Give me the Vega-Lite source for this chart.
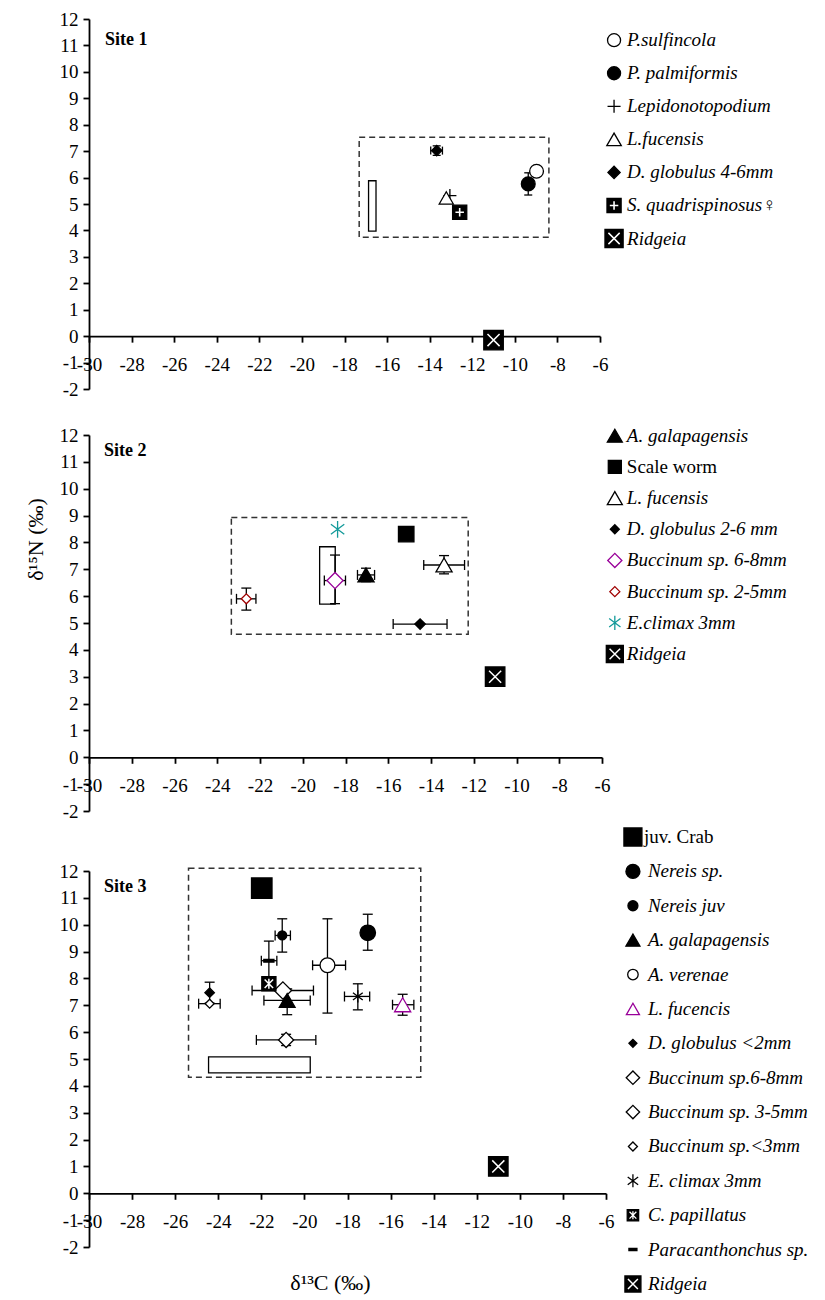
{
"$schema": "https://vega.github.io/schema/vega-lite/v6.json",
"background": "white",
"padding": {"left": 24, "top": 10, "right": 0, "bottom": 0},
"config": {
 "view": {"stroke": null},
 "font": "Liberation Serif",
 "axis": {"domainColor": "black", "domainWidth": 1.8, "tickColor": "black", "tickWidth": 1.8, "tickSize": 6, "labelFont": "Liberation Serif", "labelFontSize": 19, "labelColor": "black", "grid": false, "labelFlush": false, "labelOverlap": false, "titleFont": "Liberation Serif", "titleFontWeight": "normal", "titleColor": "black", "titleFontSize": 22},
 "axisX": {"labelPadding": 13},
 "axisY": {"labelPadding": 5}
},
"bounds": "flush",
"spacing": 46,
"resolve": {"scale": {"shape": "independent", "fill": "independent", "stroke": "independent", "size": "independent"}},
"vconcat": [
{
 "width": 511, "height": 370,
 "data": {"values": [
  {"s": "lepi", "label": "Lepidonotopodium", "o": 3, "x": -13.05, "y": 5.32},
  {"s": "sulf", "label": "P.sulfincola", "o": 1, "x": -8.98, "y": 6.24},
  {"s": "palm", "label": "P. palmiformis", "o": 2, "x": -9.37, "y": 5.76, "ylo": 5.34, "yhi": 6.18},
  {"s": "lfuc1", "label": "L.fucensis", "o": 4, "x": -13.22, "y": 5.23},
  {"s": "dglob1", "label": "D. globulus 4-6mm", "o": 5, "x": -13.67, "y": 7.02, "xlo": -13.95, "xhi": -13.4, "ylo": 6.84, "yhi": 7.2},
  {"s": "squad", "label": "S. quadrispinosus♀", "o": 6, "x": -12.59, "y": 4.69},
  {"s": "ridg1", "label": "Ridgeia", "o": 7, "x": -11, "y": -0.15}
 ]},
 "resolve": {"scale": {"y": "independent", "size": "independent"}, "axis": {"x": "independent", "y": "independent"}},
 "layer": [
  {
   "resolve": {"axis": {"x": "independent", "y": "independent"}},
   "layer": [
    {"data": {"values": [{"x1": -17.31, "x2": -8.4, "y1": 3.74, "y2": 7.53}]},
     "mark": {"type": "rect", "fill": "transparent", "stroke": "#333333", "strokeWidth": 1.5, "strokeDash": [6, 4]},
     "encoding": {
      "x": {"field": "x1", "type": "quantitative", "scale": {"domain": [-30, -6], "nice": false, "zero": false}, "axis": {"title": null, "values": [-30, -28, -26, -24, -22, -20, -18, -16, -14, -12, -10, -8, -6], "offset": -52.86, "labelExpr": "'' + datum.value"}},
      "x2": {"field": "x2"},
      "y": {"field": "y1", "type": "quantitative", "scale": {"domain": [-2, 12], "nice": false, "zero": false}, "axis": {"title": null, "values": [-2, -1, 0, 1, 2, 3, 4, 5, 6, 7, 8, 9, 10, 11, 12], "labelExpr": "'' + datum.value"}},
      "y2": {"field": "y2"}
     }},
    {"data": {"values": [{"x1": -16.87, "x2": -16.52, "y1": 3.97, "y2": 5.88}]},
     "mark": {"type": "rect", "fill": "white", "stroke": "black", "strokeWidth": 1.3},
     "encoding": {"x": {"field": "x1", "type": "quantitative", "axis": null}, "x2": {"field": "x2"}, "y": {"field": "y1", "type": "quantitative", "axis": null}, "y2": {"field": "y2"}}},
    {"transform": [{"filter": "isValid(datum.xlo)"}], "mark": {"type": "rule", "color": "black", "strokeWidth": 1.3},
     "encoding": {"x": {"field": "xlo", "type": "quantitative", "axis": null}, "x2": {"field": "xhi"}, "y": {"field": "y", "type": "quantitative", "axis": null}}},
    {"transform": [{"filter": "isValid(datum.ylo)"}], "mark": {"type": "rule", "color": "black", "strokeWidth": 1.3},
     "encoding": {"x": {"field": "x", "type": "quantitative", "axis": null}, "y": {"field": "ylo", "type": "quantitative", "axis": null}, "y2": {"field": "yhi"}}},
    {"transform": [{"filter": "isValid(datum.xlo)"}], "mark": {"type": "tick", "orient": "vertical", "size": 8, "thickness": 1.3, "color": "black", "opacity": 1},
     "encoding": {"x": {"field": "xlo", "type": "quantitative", "axis": null}, "y": {"field": "y", "type": "quantitative", "axis": null}}},
    {"transform": [{"filter": "isValid(datum.xhi)"}], "mark": {"type": "tick", "orient": "vertical", "size": 8, "thickness": 1.3, "color": "black", "opacity": 1},
     "encoding": {"x": {"field": "xhi", "type": "quantitative", "axis": null}, "y": {"field": "y", "type": "quantitative", "axis": null}}},
    {"transform": [{"filter": "isValid(datum.ylo)"}], "mark": {"type": "tick", "orient": "horizontal", "size": 8, "thickness": 1.3, "color": "black", "opacity": 1},
     "encoding": {"x": {"field": "x", "type": "quantitative", "axis": null}, "y": {"field": "ylo", "type": "quantitative", "axis": null}}},
    {"transform": [{"filter": "isValid(datum.yhi)"}], "mark": {"type": "tick", "orient": "horizontal", "size": 8, "thickness": 1.3, "color": "black", "opacity": 1},
     "encoding": {"x": {"field": "x", "type": "quantitative", "axis": null}, "y": {"field": "yhi", "type": "quantitative", "axis": null}}},
    {"mark": {"type": "point", "opacity": 1, "strokeWidth": 1.3},
     "encoding": {
      "x": {"field": "x", "type": "quantitative", "axis": null},
      "y": {"field": "y", "type": "quantitative", "axis": null},
      "shape": {"field": "s", "type": "nominal", "legend": null, "scale": {"domain": ["sulf", "palm", "lepi", "lfuc1", "dglob1", "squad", "ridg1"], "range": ["circle", "circle", "M-1,0H1M0,-1V1", "triangle-up", "diamond", "square", "square"]}},
      "fill": {"field": "s", "type": "nominal", "legend": null, "scale": {"domain": ["sulf", "palm", "lepi", "lfuc1", "dglob1", "squad", "ridg1"], "range": ["white", "black", "transparent", "white", "black", "black", "black"]}},
      "stroke": {"field": "s", "type": "nominal", "legend": null, "scale": {"domain": ["sulf", "palm", "lepi", "lfuc1", "dglob1", "squad", "ridg1"], "range": ["black", "black", "black", "black", "black", "black", "black"]}},
      "size": {"field": "o", "type": "quantitative", "legend": null, "scale": {"type": "threshold", "domain": [1.5, 2.5, 3.5, 4.5, 5.5, 6.5], "range": [190, 190, 170, 200, 110, 200, 380]}}
     }},
    {"transform": [{"filter": "datum.s == 'squad'"}], "mark": {"type": "point", "shape": "M-0.6,0H0.6M0,-0.6V0.6", "stroke": "white", "strokeWidth": 1.6, "opacity": 1},
     "encoding": {"x": {"field": "x", "type": "quantitative", "axis": null}, "y": {"field": "y", "type": "quantitative", "axis": null},
      "size": {"field": "o", "type": "quantitative", "legend": null, "scale": {"type": "threshold", "domain": [1.5, 2.5, 3.5, 4.5, 5.5, 6.5], "range": [190, 190, 170, 200, 110, 200, 380]}}}},
    {"transform": [{"filter": "datum.s == 'ridg1'"}], "mark": {"type": "point", "shape": "M-0.62,-0.62L0.62,0.62M-0.62,0.62L0.62,-0.62", "stroke": "white", "strokeWidth": 1.5, "opacity": 1},
     "encoding": {"x": {"field": "x", "type": "quantitative", "axis": null}, "y": {"field": "y", "type": "quantitative", "axis": null},
      "size": {"field": "o", "type": "quantitative", "legend": null, "scale": {"type": "threshold", "domain": [1.5, 2.5, 3.5, 4.5, 5.5, 6.5], "range": [190, 190, 170, 200, 110, 200, 380]}}}},
    {"data": {"values": [{"t": "Site 1"}]}, "mark": {"type": "text", "align": "left", "baseline": "middle", "fontSize": 18, "fontWeight": "bold", "font": "Liberation Serif", "fill": "black"},
     "encoding": {"x": {"datum": -29.25, "type": "quantitative", "axis": null}, "y": {"datum": 11.2, "type": "quantitative", "axis": null}, "text": {"field": "t"}}}
   ]
  },
  {
   "layer": [
    {"mark": {"type": "point", "opacity": 1, "strokeWidth": 1.3},
     "encoding": {
      "x": {"datum": -5.34, "type": "quantitative", "axis": null},
      "y": {"field": "o", "type": "quantitative", "axis": null, "scale": {"domain": [1, 7], "range": [21.2, 219.5], "zero": false, "nice": false}},
      "shape": {"field": "s", "type": "nominal", "legend": null, "scale": {"domain": ["sulf", "palm", "lepi", "lfuc1", "dglob1", "squad", "ridg1"], "range": ["circle", "circle", "M-1,0H1M0,-1V1", "triangle-up", "diamond", "square", "square"]}},
      "fill": {"field": "s", "type": "nominal", "legend": null, "scale": {"domain": ["sulf", "palm", "lepi", "lfuc1", "dglob1", "squad", "ridg1"], "range": ["white", "black", "transparent", "white", "black", "black", "black"]}},
      "stroke": {"field": "s", "type": "nominal", "legend": null, "scale": {"domain": ["sulf", "palm", "lepi", "lfuc1", "dglob1", "squad", "ridg1"], "range": ["black", "black", "black", "black", "black", "black", "black"]}},
      "size": {"field": "o", "type": "quantitative", "legend": null, "scale": {"type": "threshold", "domain": [1.5, 2.5, 3.5, 4.5, 5.5, 6.5], "range": [170, 170, 170, 210, 150, 200, 330]}}
     }},
    {"transform": [{"filter": "datum.s == 'squad'"}], "mark": {"type": "point", "shape": "M-0.6,0H0.6M0,-0.6V0.6", "stroke": "white", "strokeWidth": 1.6, "opacity": 1},
     "encoding": {"x": {"datum": -5.34, "type": "quantitative", "axis": null}, "y": {"field": "o", "type": "quantitative", "axis": null, "scale": {"domain": [1, 7], "range": [21.2, 219.5], "zero": false, "nice": false}},
      "size": {"field": "o", "type": "quantitative", "legend": null, "scale": {"type": "threshold", "domain": [1.5, 2.5, 3.5, 4.5, 5.5, 6.5], "range": [170, 170, 170, 210, 150, 200, 330]}}}},
    {"transform": [{"filter": "datum.s == 'ridg1'"}], "mark": {"type": "point", "shape": "M-0.62,-0.62L0.62,0.62M-0.62,0.62L0.62,-0.62", "stroke": "white", "strokeWidth": 1.5, "opacity": 1},
     "encoding": {"x": {"datum": -5.34, "type": "quantitative", "axis": null}, "y": {"field": "o", "type": "quantitative", "axis": null, "scale": {"domain": [1, 7], "range": [21.2, 219.5], "zero": false, "nice": false}},
      "size": {"field": "o", "type": "quantitative", "legend": null, "scale": {"type": "threshold", "domain": [1.5, 2.5, 3.5, 4.5, 5.5, 6.5], "range": [170, 170, 170, 210, 150, 200, 330]}}}},
    {"mark": {"type": "text", "align": "left", "baseline": "middle", "dx": 13, "fontSize": 19, "fontStyle": "italic", "font": "Liberation Serif", "fill": "black"},
     "encoding": {"x": {"datum": -5.34, "type": "quantitative", "axis": null}, "y": {"field": "o", "type": "quantitative", "axis": null, "scale": {"domain": [1, 7], "range": [21.2, 219.5], "zero": false, "nice": false}}, "text": {"field": "label"}}}
   ]
  }
 ]
},
{
 "bounds": "flush",
 "spacing": 60,
 "resolve": {"scale": {"shape": "independent", "fill": "independent", "stroke": "independent", "size": "independent"}},
 "vconcat": [
 {
  "width": 513, "height": 376,
  "data": {"values": [
   {"s": "bucc25", "label": "Buccinum sp. 2-5mm", "o": 6, "x": -22.64, "y": 5.9, "xlo": -23.1, "xhi": -22.19, "ylo": 5.48, "yhi": 6.3},
   {"s": "dglob2", "label": "D. globulus 2-6 mm", "o": 4, "x": -14.51, "y": 4.96, "xlo": -15.77, "xhi": -13.25},
   {"s": "bucc68", "label": "Buccinum sp. 6-8mm", "o": 5, "x": -18.49, "y": 6.58, "xlo": -18.99, "xhi": -18.0, "ylo": 5.72, "yhi": 7.53},
   {"s": "agal2", "label": "A. galapagensis", "o": 1, "x": -17.04, "y": 6.79, "xlo": -17.44, "xhi": -16.64, "ylo": 6.54, "yhi": 7.04},
   {"s": "lfuc2", "label": "L. fucensis", "o": 3, "x": -13.39, "y": 7.16, "xlo": -14.34, "xhi": -12.43, "ylo": 6.83, "yhi": 7.51},
   {"s": "worm", "label": "Scale worm", "o": 2, "x": -15.16, "y": 8.31},
   {"s": "eclim2", "label": "E.climax 3mm", "o": 7, "x": -18.37, "y": 8.49},
   {"s": "ridg2", "label": "Ridgeia", "o": 8, "x": -11, "y": 3.0}
  ]},
  "resolve": {"scale": {"y": "independent", "size": "independent"}, "axis": {"x": "independent", "y": "independent"}},
  "layer": [
   {
    "resolve": {"axis": {"x": "independent", "y": "independent"}},
    "layer": [
     {"data": {"values": [{"x1": -23.34, "x2": -12.26, "y1": 4.58, "y2": 8.93}]},
      "mark": {"type": "rect", "fill": "transparent", "stroke": "#333333", "strokeWidth": 1.5, "strokeDash": [6, 4]},
      "encoding": {
       "x": {"field": "x1", "type": "quantitative", "scale": {"domain": [-30, -6], "nice": false, "zero": false}, "axis": {"title": null, "values": [-30, -28, -26, -24, -22, -20, -18, -16, -14, -12, -10, -8, -6], "offset": -53.71, "labelExpr": "'' + datum.value"}},
       "x2": {"field": "x2"},
       "y": {"field": "y1", "type": "quantitative", "scale": {"domain": [-2, 12], "nice": false, "zero": false}, "axis": {"title": "δ¹⁵N (‰)", "titleX": -54, "titleY": 104, "titleBaseline": "middle", "titleAngle": -90, "values": [-2, -1, 0, 1, 2, 3, 4, 5, 6, 7, 8, 9, 10, 11, 12], "labelExpr": "'' + datum.value"}},
       "y2": {"field": "y2"}
      }},
     {"data": {"values": [{"x1": -19.21, "x2": -18.48, "y1": 5.7, "y2": 7.84}]},
      "mark": {"type": "rect", "fill": "white", "stroke": "black", "strokeWidth": 1.3},
      "encoding": {"x": {"field": "x1", "type": "quantitative", "axis": null}, "x2": {"field": "x2"}, "y": {"field": "y1", "type": "quantitative", "axis": null}, "y2": {"field": "y2"}}},
     {"transform": [{"filter": "isValid(datum.xlo)"}], "mark": {"type": "rule", "color": "black", "strokeWidth": 1.3},
      "encoding": {"x": {"field": "xlo", "type": "quantitative", "axis": null}, "x2": {"field": "xhi"}, "y": {"field": "y", "type": "quantitative", "axis": null}}},
     {"transform": [{"filter": "isValid(datum.ylo)"}], "mark": {"type": "rule", "color": "black", "strokeWidth": 1.3},
      "encoding": {"x": {"field": "x", "type": "quantitative", "axis": null}, "y": {"field": "ylo", "type": "quantitative", "axis": null}, "y2": {"field": "yhi"}}},
     {"transform": [{"filter": "isValid(datum.xlo)"}], "mark": {"type": "tick", "orient": "vertical", "size": 10, "thickness": 1.3, "color": "black", "opacity": 1},
      "encoding": {"x": {"field": "xlo", "type": "quantitative", "axis": null}, "y": {"field": "y", "type": "quantitative", "axis": null}}},
     {"transform": [{"filter": "isValid(datum.xhi)"}], "mark": {"type": "tick", "orient": "vertical", "size": 10, "thickness": 1.3, "color": "black", "opacity": 1},
      "encoding": {"x": {"field": "xhi", "type": "quantitative", "axis": null}, "y": {"field": "y", "type": "quantitative", "axis": null}}},
     {"transform": [{"filter": "isValid(datum.ylo)"}], "mark": {"type": "tick", "orient": "horizontal", "size": 10, "thickness": 1.3, "color": "black", "opacity": 1},
      "encoding": {"x": {"field": "x", "type": "quantitative", "axis": null}, "y": {"field": "ylo", "type": "quantitative", "axis": null}}},
     {"transform": [{"filter": "isValid(datum.yhi)"}], "mark": {"type": "tick", "orient": "horizontal", "size": 10, "thickness": 1.3, "color": "black", "opacity": 1},
      "encoding": {"x": {"field": "x", "type": "quantitative", "axis": null}, "y": {"field": "yhi", "type": "quantitative", "axis": null}}},
     {"mark": {"type": "point", "opacity": 1, "strokeWidth": 1.3},
      "encoding": {
       "x": {"field": "x", "type": "quantitative", "axis": null},
       "y": {"field": "y", "type": "quantitative", "axis": null},
       "shape": {"field": "s", "type": "nominal", "legend": null, "scale": {"domain": ["agal2", "worm", "lfuc2", "dglob2", "bucc68", "bucc25", "eclim2", "ridg2"], "range": ["triangle-up", "square", "triangle-up", "diamond", "diamond", "diamond", "M0,-1V1M-0.8,-0.6L0.8,0.6M-0.8,0.6L0.8,-0.6", "square"]}},
       "fill": {"field": "s", "type": "nominal", "legend": null, "scale": {"domain": ["agal2", "worm", "lfuc2", "dglob2", "bucc68", "bucc25", "eclim2", "ridg2"], "range": ["black", "black", "white", "black", "white", "white", "transparent", "black"]}},
       "stroke": {"field": "s", "type": "nominal", "legend": null, "scale": {"domain": ["agal2", "worm", "lfuc2", "dglob2", "bucc68", "bucc25", "eclim2", "ridg2"], "range": ["black", "black", "black", "black", "#990099", "#A00000", "#139A9A", "black"]}},
       "size": {"field": "o", "type": "quantitative", "legend": null, "scale": {"type": "threshold", "domain": [1.5, 2.5, 3.5, 4.5, 5.5, 6.5, 7.5], "range": [260, 240, 260, 110, 260, 100, 280, 380]}}
      }},
     {"transform": [{"filter": "datum.s == 'ridg2'"}], "mark": {"type": "point", "shape": "M-0.62,-0.62L0.62,0.62M-0.62,0.62L0.62,-0.62", "stroke": "white", "strokeWidth": 1.5, "opacity": 1},
      "encoding": {"x": {"field": "x", "type": "quantitative", "axis": null}, "y": {"field": "y", "type": "quantitative", "axis": null},
       "size": {"field": "o", "type": "quantitative", "legend": null, "scale": {"type": "threshold", "domain": [1.5, 2.5, 3.5, 4.5, 5.5, 6.5, 7.5], "range": [260, 240, 260, 110, 260, 100, 280, 380]}}}},
     {"data": {"values": [{"t": "Site 2"}]}, "mark": {"type": "text", "align": "left", "baseline": "middle", "fontSize": 18, "fontWeight": "bold", "font": "Liberation Serif", "fill": "black"},
      "encoding": {"x": {"datum": -29.3, "type": "quantitative", "axis": null}, "y": {"datum": 11.4, "type": "quantitative", "axis": null}, "text": {"field": "t"}}}
    ]
   },
   {
    "layer": [
     {"mark": {"type": "point", "opacity": 1, "strokeWidth": 1.3},
      "encoding": {
       "x": {"datum": -5.4, "type": "quantitative", "axis": null},
       "y": {"field": "o", "type": "quantitative", "axis": null, "scale": {"domain": [1, 8], "range": [0.7, 219], "zero": false, "nice": false}},
       "shape": {"field": "s", "type": "nominal", "legend": null, "scale": {"domain": ["agal2", "worm", "lfuc2", "dglob2", "bucc68", "bucc25", "eclim2", "ridg2"], "range": ["triangle-up", "square", "triangle-up", "diamond", "diamond", "diamond", "M0,-1V1M-0.8,-0.6L0.8,0.6M-0.8,0.6L0.8,-0.6", "square"]}},
       "fill": {"field": "s", "type": "nominal", "legend": null, "scale": {"domain": ["agal2", "worm", "lfuc2", "dglob2", "bucc68", "bucc25", "eclim2", "ridg2"], "range": ["black", "black", "white", "black", "white", "white", "transparent", "black"]}},
       "stroke": {"field": "s", "type": "nominal", "legend": null, "scale": {"domain": ["agal2", "worm", "lfuc2", "dglob2", "bucc68", "bucc25", "eclim2", "ridg2"], "range": ["black", "black", "black", "black", "#990099", "#A00000", "#139A9A", "black"]}},
       "size": {"field": "o", "type": "quantitative", "legend": null, "scale": {"type": "threshold", "domain": [1.5, 2.5, 3.5, 4.5, 5.5, 6.5, 7.5], "range": [225, 170, 225, 81, 200, 100, 200, 290]}}
      }},
     {"transform": [{"filter": "datum.s == 'ridg2'"}], "mark": {"type": "point", "shape": "M-0.62,-0.62L0.62,0.62M-0.62,0.62L0.62,-0.62", "stroke": "white", "strokeWidth": 1.5, "opacity": 1},
      "encoding": {"x": {"datum": -5.4, "type": "quantitative", "axis": null}, "y": {"field": "o", "type": "quantitative", "axis": null, "scale": {"domain": [1, 8], "range": [0.7, 219], "zero": false, "nice": false}},
       "size": {"field": "o", "type": "quantitative", "legend": null, "scale": {"type": "threshold", "domain": [1.5, 2.5, 3.5, 4.5, 5.5, 6.5, 7.5], "range": [225, 170, 225, 81, 200, 100, 200, 290]}}}},
     {"transform": [{"filter": "datum.label != 'Scale worm'"}], "mark": {"type": "text", "align": "left", "baseline": "middle", "dx": 12, "fontSize": 19, "fontStyle": "italic", "font": "Liberation Serif", "fill": "black"},
      "encoding": {"x": {"datum": -5.4, "type": "quantitative", "axis": null}, "y": {"field": "o", "type": "quantitative", "axis": null, "scale": {"domain": [1, 8], "range": [0.7, 219], "zero": false, "nice": false}}, "text": {"field": "label"}}},
     {"transform": [{"filter": "datum.label == 'Scale worm'"}], "mark": {"type": "text", "align": "left", "baseline": "middle", "dx": 12, "fontSize": 19, "font": "Liberation Serif", "fill": "black"},
      "encoding": {"x": {"datum": -5.4, "type": "quantitative", "axis": null}, "y": {"field": "o", "type": "quantitative", "axis": null, "scale": {"domain": [1, 8], "range": [0.7, 219], "zero": false, "nice": false}}, "text": {"field": "label"}}}
    ]
   }
  ]
 },
 {
  "width": 517, "height": 376,
  "data": {"values": [
   {"s": "bucc3", "label": "Buccinum sp.<3mm", "o": 10, "x": -24.4, "y": 7.06, "xlo": -24.91, "xhi": -23.91},
   {"s": "dglob3", "label": "D. globulus <2mm", "o": 7, "x": -24.4, "y": 7.47, "ylo": 7.08, "yhi": 7.86},
   {"s": "bucc35", "label": "Buccinum sp. 3-5mm", "o": 9, "x": -20.85, "y": 5.71, "xlo": -22.23, "xhi": -19.47, "ylo": 5.5, "yhi": 5.92},
   {"s": "bucc68b", "label": "Buccinum sp.6-8mm", "o": 8, "x": -21.0, "y": 7.55, "xlo": -22.43, "xhi": -19.58},
   {"s": "para", "label": "Paracanthonchus sp.", "o": 13, "x": -21.65, "y": 8.66, "xlo": -22.0, "xhi": -21.28, "ylo": 7.93, "yhi": 9.39},
   {"s": "cpap", "label": "C. papillatus", "o": 12, "x": -21.65, "y": 7.8},
   {"s": "agal3", "label": "A. galapagensis", "o": 4, "x": -20.8, "y": 7.18, "xlo": -21.88, "xhi": -19.73, "ylo": 6.65, "yhi": 7.61},
   {"s": "nerj", "label": "Nereis juv", "o": 3, "x": -21.03, "y": 9.6, "xlo": -21.36, "xhi": -20.65, "ylo": 8.98, "yhi": 10.22},
   {"s": "aver", "label": "A. verenae", "o": 5, "x": -18.93, "y": 8.49, "xlo": -19.62, "xhi": -18.09, "ylo": 6.71, "yhi": 10.22},
   {"s": "ners", "label": "Nereis sp.", "o": 2, "x": -17.06, "y": 9.7, "xlo": -17.3, "xhi": -16.82, "ylo": 9.05, "yhi": 10.39},
   {"s": "eclim3", "label": "E. climax 3mm", "o": 11, "x": -17.52, "y": 7.33, "xlo": -18.14, "xhi": -16.97, "ylo": 6.83, "yhi": 7.8},
   {"s": "lfuc3", "label": "L. fucencis", "o": 6, "x": -15.44, "y": 7.02, "xlo": -15.91, "xhi": -14.92, "ylo": 6.63, "yhi": 7.41},
   {"s": "crab", "label": "juv. Crab", "o": 1, "x": -21.98, "y": 11.36},
   {"s": "ridg3", "label": "Ridgeia", "o": 14, "x": -11, "y": 1.0}
  ]},
  "resolve": {"scale": {"y": "independent", "size": "independent"}, "axis": {"x": "independent", "y": "independent"}},
  "layer": [
   {
    "resolve": {"axis": {"x": "independent", "y": "independent"}},
    "layer": [
     {"data": {"values": [{"x1": -25.38, "x2": -14.6, "y1": 4.32, "y2": 12.1}]},
      "mark": {"type": "rect", "fill": "transparent", "stroke": "#333333", "strokeWidth": 1.5, "strokeDash": [6, 4]},
      "encoding": {
       "x": {"field": "x1", "type": "quantitative", "scale": {"domain": [-30, -6], "nice": false, "zero": false}, "axis": {"title": "δ¹³C (‰)", "titleX": 241, "titleY": 89, "titleBaseline": "middle", "values": [-30, -28, -26, -24, -22, -20, -18, -16, -14, -12, -10, -8, -6], "offset": -53.71, "labelExpr": "'' + datum.value"}},
       "x2": {"field": "x2"},
       "y": {"field": "y1", "type": "quantitative", "scale": {"domain": [-2, 12], "nice": false, "zero": false}, "axis": {"title": null, "values": [-2, -1, 0, 1, 2, 3, 4, 5, 6, 7, 8, 9, 10, 11, 12], "labelExpr": "'' + datum.value"}},
       "y2": {"field": "y2"}
      }},
     {"data": {"values": [{"x1": -24.45, "x2": -19.73, "y1": 4.48, "y2": 5.08}]},
      "mark": {"type": "rect", "fill": "white", "stroke": "black", "strokeWidth": 1.3},
      "encoding": {"x": {"field": "x1", "type": "quantitative", "axis": null}, "x2": {"field": "x2"}, "y": {"field": "y1", "type": "quantitative", "axis": null}, "y2": {"field": "y2"}}},
     {"transform": [{"filter": "isValid(datum.xlo)"}], "mark": {"type": "rule", "color": "black", "strokeWidth": 1.3},
      "encoding": {"x": {"field": "xlo", "type": "quantitative", "axis": null}, "x2": {"field": "xhi"}, "y": {"field": "y", "type": "quantitative", "axis": null}}},
     {"transform": [{"filter": "isValid(datum.ylo)"}], "mark": {"type": "rule", "color": "black", "strokeWidth": 1.3},
      "encoding": {"x": {"field": "x", "type": "quantitative", "axis": null}, "y": {"field": "ylo", "type": "quantitative", "axis": null}, "y2": {"field": "yhi"}}},
     {"transform": [{"filter": "isValid(datum.xlo)"}], "mark": {"type": "tick", "orient": "vertical", "size": 10, "thickness": 1.3, "color": "black", "opacity": 1},
      "encoding": {"x": {"field": "xlo", "type": "quantitative", "axis": null}, "y": {"field": "y", "type": "quantitative", "axis": null}}},
     {"transform": [{"filter": "isValid(datum.xhi)"}], "mark": {"type": "tick", "orient": "vertical", "size": 10, "thickness": 1.3, "color": "black", "opacity": 1},
      "encoding": {"x": {"field": "xhi", "type": "quantitative", "axis": null}, "y": {"field": "y", "type": "quantitative", "axis": null}}},
     {"transform": [{"filter": "isValid(datum.ylo)"}], "mark": {"type": "tick", "orient": "horizontal", "size": 10, "thickness": 1.3, "color": "black", "opacity": 1},
      "encoding": {"x": {"field": "x", "type": "quantitative", "axis": null}, "y": {"field": "ylo", "type": "quantitative", "axis": null}}},
     {"transform": [{"filter": "isValid(datum.yhi)"}], "mark": {"type": "tick", "orient": "horizontal", "size": 10, "thickness": 1.3, "color": "black", "opacity": 1},
      "encoding": {"x": {"field": "x", "type": "quantitative", "axis": null}, "y": {"field": "yhi", "type": "quantitative", "axis": null}}},
     {"mark": {"type": "point", "opacity": 1, "strokeWidth": 1.3},
      "encoding": {
       "x": {"field": "x", "type": "quantitative", "axis": null},
       "y": {"field": "y", "type": "quantitative", "axis": null},
       "shape": {"field": "s", "type": "nominal", "legend": null, "scale": {"domain": ["crab", "ners", "nerj", "agal3", "aver", "lfuc3", "dglob3", "bucc68b", "bucc35", "bucc3", "eclim3", "cpap", "para", "ridg3"], "range": ["square", "circle", "circle", "triangle-up", "circle", "triangle-up", "diamond", "diamond", "diamond", "diamond", "M0,-1V1M-0.8,-0.6L0.8,0.6M-0.8,0.6L0.8,-0.6", "square", "M-0.8,-0.22H0.8V0.22H-0.8Z", "square"]}},
       "fill": {"field": "s", "type": "nominal", "legend": null, "scale": {"domain": ["crab", "ners", "nerj", "agal3", "aver", "lfuc3", "dglob3", "bucc68b", "bucc35", "bucc3", "eclim3", "cpap", "para", "ridg3"], "range": ["black", "black", "black", "black", "white", "white", "black", "white", "white", "white", "transparent", "black", "black", "black"]}},
       "stroke": {"field": "s", "type": "nominal", "legend": null, "scale": {"domain": ["crab", "ners", "nerj", "agal3", "aver", "lfuc3", "dglob3", "bucc68b", "bucc35", "bucc3", "eclim3", "cpap", "para", "ridg3"], "range": ["black", "black", "black", "black", "black", "#990099", "black", "black", "black", "black", "black", "black", "black", "black"]}},
       "size": {"field": "o", "type": "quantitative", "legend": null, "scale": {"type": "threshold", "domain": [1.5, 2.5, 3.5, 4.5, 5.5, 6.5, 7.5, 8.5, 9.5, 10.5, 11.5, 12.5, 13.5], "range": [420, 240, 80, 250, 220, 260, 90, 300, 230, 80, 150, 200, 160, 380]}}
      }},
     {"transform": [{"filter": "datum.s == 'cpap'"}], "mark": {"type": "point", "shape": "M0,-0.7V0.7M-0.6,-0.6L0.6,0.6M-0.6,0.6L0.6,-0.6", "stroke": "white", "strokeWidth": 1.5, "opacity": 1},
      "encoding": {"x": {"field": "x", "type": "quantitative", "axis": null}, "y": {"field": "y", "type": "quantitative", "axis": null},
       "size": {"field": "o", "type": "quantitative", "legend": null, "scale": {"type": "threshold", "domain": [1.5, 2.5, 3.5, 4.5, 5.5, 6.5, 7.5, 8.5, 9.5, 10.5, 11.5, 12.5, 13.5], "range": [420, 240, 80, 250, 220, 260, 90, 300, 230, 80, 150, 200, 160, 380]}}}},
     {"transform": [{"filter": "datum.s == 'ridg3'"}], "mark": {"type": "point", "shape": "M-0.62,-0.62L0.62,0.62M-0.62,0.62L0.62,-0.62", "stroke": "white", "strokeWidth": 1.5, "opacity": 1},
      "encoding": {"x": {"field": "x", "type": "quantitative", "axis": null}, "y": {"field": "y", "type": "quantitative", "axis": null},
       "size": {"field": "o", "type": "quantitative", "legend": null, "scale": {"type": "threshold", "domain": [1.5, 2.5, 3.5, 4.5, 5.5, 6.5, 7.5, 8.5, 9.5, 10.5, 11.5, 12.5, 13.5], "range": [420, 240, 80, 250, 220, 260, 90, 300, 230, 80, 150, 200, 160, 380]}}}},
     {"data": {"values": [{"t": "Site 3"}]}, "mark": {"type": "text", "align": "left", "baseline": "middle", "fontSize": 18, "fontWeight": "bold", "font": "Liberation Serif", "fill": "black"},
      "encoding": {"x": {"datum": -29.3, "type": "quantitative", "axis": null}, "y": {"datum": 11.4, "type": "quantitative", "axis": null}, "text": {"field": "t"}}}
    ]
   },
   {
    "layer": [
     {"mark": {"type": "point", "opacity": 1, "strokeWidth": 1.3},
      "encoding": {
       "x": {"datum": -4.75, "type": "quantitative", "axis": null},
       "y": {"field": "o", "type": "quantitative", "axis": null, "scale": {"domain": [1, 14], "range": [-34, 413], "zero": false, "nice": false}},
       "shape": {"field": "s", "type": "nominal", "legend": null, "scale": {"domain": ["crab", "ners", "nerj", "agal3", "aver", "lfuc3", "dglob3", "bucc68b", "bucc35", "bucc3", "eclim3", "cpap", "para", "ridg3"], "range": ["square", "circle", "circle", "triangle-up", "circle", "triangle-up", "diamond", "diamond", "diamond", "diamond", "M0,-1V1M-0.8,-0.6L0.8,0.6M-0.8,0.6L0.8,-0.6", "square", "M-0.8,-0.22H0.8V0.22H-0.8Z", "square"]}},
       "fill": {"field": "s", "type": "nominal", "legend": null, "scale": {"domain": ["crab", "ners", "nerj", "agal3", "aver", "lfuc3", "dglob3", "bucc68b", "bucc35", "bucc3", "eclim3", "cpap", "para", "ridg3"], "range": ["black", "black", "black", "black", "white", "white", "black", "white", "white", "white", "transparent", "black", "black", "black"]}},
       "stroke": {"field": "s", "type": "nominal", "legend": null, "scale": {"domain": ["crab", "ners", "nerj", "agal3", "aver", "lfuc3", "dglob3", "bucc68b", "bucc35", "bucc3", "eclim3", "cpap", "para", "ridg3"], "range": ["black", "black", "black", "black", "black", "#990099", "black", "black", "black", "black", "black", "black", "black", "black"]}},
       "size": {"field": "o", "type": "quantitative", "legend": null, "scale": {"type": "threshold", "domain": [1.5, 2.5, 3.5, 4.5, 5.5, 6.5, 7.5, 8.5, 9.5, 10.5, 11.5, 12.5, 13.5], "range": [324, 196, 100, 196, 110, 170, 64, 180, 180, 81, 170, 130, 100, 256]}}
      }},
     {"transform": [{"filter": "datum.s == 'cpap'"}], "mark": {"type": "point", "shape": "M0,-0.7V0.7M-0.6,-0.6L0.6,0.6M-0.6,0.6L0.6,-0.6", "stroke": "white", "strokeWidth": 1.3, "opacity": 1},
      "encoding": {"x": {"datum": -4.75, "type": "quantitative", "axis": null}, "y": {"field": "o", "type": "quantitative", "axis": null, "scale": {"domain": [1, 14], "range": [-34, 413], "zero": false, "nice": false}},
       "size": {"field": "o", "type": "quantitative", "legend": null, "scale": {"type": "threshold", "domain": [1.5, 2.5, 3.5, 4.5, 5.5, 6.5, 7.5, 8.5, 9.5, 10.5, 11.5, 12.5, 13.5], "range": [324, 196, 100, 196, 110, 170, 64, 180, 180, 81, 170, 130, 100, 256]}}}},
     {"transform": [{"filter": "datum.s == 'ridg3'"}], "mark": {"type": "point", "shape": "M-0.62,-0.62L0.62,0.62M-0.62,0.62L0.62,-0.62", "stroke": "white", "strokeWidth": 1.5, "opacity": 1},
      "encoding": {"x": {"datum": -4.75, "type": "quantitative", "axis": null}, "y": {"field": "o", "type": "quantitative", "axis": null, "scale": {"domain": [1, 14], "range": [-34, 413], "zero": false, "nice": false}},
       "size": {"field": "o", "type": "quantitative", "legend": null, "scale": {"type": "threshold", "domain": [1.5, 2.5, 3.5, 4.5, 5.5, 6.5, 7.5, 8.5, 9.5, 10.5, 11.5, 12.5, 13.5], "range": [324, 196, 100, 196, 110, 170, 64, 180, 180, 81, 170, 130, 100, 256]}}}},
     {"transform": [{"filter": "datum.label != 'juv. Crab'"}], "mark": {"type": "text", "align": "left", "baseline": "middle", "dx": 15, "fontSize": 19, "fontStyle": "italic", "font": "Liberation Serif", "fill": "black"},
      "encoding": {"x": {"datum": -4.75, "type": "quantitative", "axis": null}, "y": {"field": "o", "type": "quantitative", "axis": null, "scale": {"domain": [1, 14], "range": [-34, 413], "zero": false, "nice": false}}, "text": {"field": "label"}}},
     {"transform": [{"filter": "datum.label == 'juv. Crab'"}], "mark": {"type": "text", "align": "left", "baseline": "middle", "dx": 11, "fontSize": 19, "font": "Liberation Serif", "fill": "black"},
      "encoding": {"x": {"datum": -4.75, "type": "quantitative", "axis": null}, "y": {"field": "o", "type": "quantitative", "axis": null, "scale": {"domain": [1, 14], "range": [-34, 413], "zero": false, "nice": false}}, "text": {"field": "label"}}}
    ]
   }
  ]
 }
 ]
}
]
}
